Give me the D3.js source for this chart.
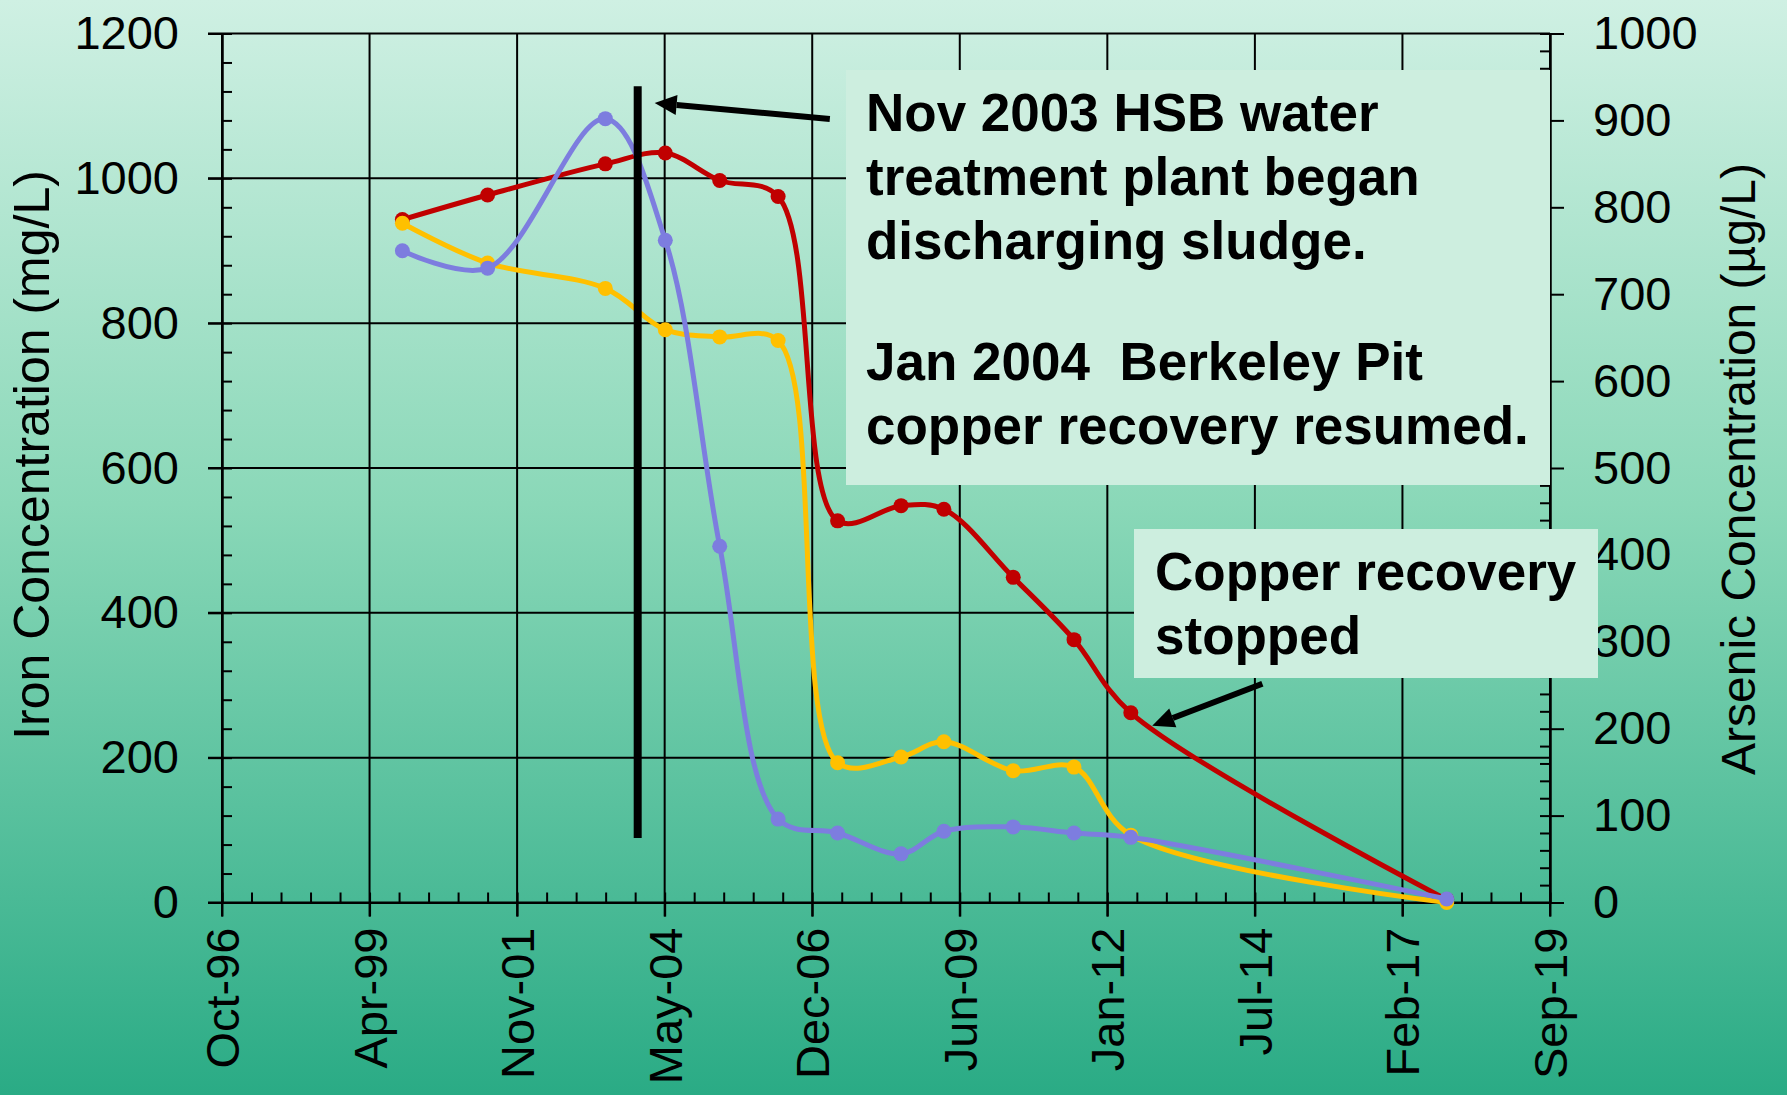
<!DOCTYPE html>
<html>
<head>
<meta charset="utf-8">
<script src="https://cdn.jsdelivr.net/npm/d3@7"></script>
<style>
    body { margin: 0; }
    svg { display: block; font-family: "Liberation Sans", Arial, sans-serif; }
</style>
</head>
<body>
<div id="chart"></div>
<script>
// sample dates and the three series
var sampleDates = ["1999-11-12", "2001-05-02", "2003-05-14", "2004-05-26", "2005-05-04", "2006-05-07",
    "2007-05-17", "2008-06-20", "2009-03-17", "2010-05-28", "2011-06-15", "2012-06-07", "2017-11-19"];
var ironRed = [943, 977, 1020, 1035, 997, 975, 527, 548, 543, 449, 363, 262, 4];      // mg/L, left axis
var ironYellow = [938, 883, 848, 791, 781, 776, 193, 201, 222, 182, 187, 93, 0];      // mg/L, left axis
var arsenicBlue = [750, 730, 902, 762, 410, 96, 80, 56, 82, 87, 80, 75, 4];            // ug/L, right axis

var xTickLabels = ["Oct-96", "Apr-99", "Nov-01", "May-04", "Dec-06", "Jun-09", "Jan-12", "Jul-14", "Feb-17", "Sep-19"];
var axisStart = "1996-10-01";
var majorDays = 930;
var leftTicks = [0, 200, 400, 600, 800, 1000, 1200];
var rightTicks = [0, 100, 200, 300, 400, 500, 600, 700, 800, 900, 1000];

var markerDate = "2003-12-04";
var markerRange = [89, 1127];

var noteLines = ["Nov 2003 HSB water", "treatment plant began", "discharging sludge.", "", "Jan 2004  Berkeley Pit", "copper recovery resumed."];
var stopLines = ["Copper recovery", "stopped"];
// arrows: [tail date, tail value], [tip date, tip value] on the iron axis
var noteArrow = [["2007-03-29", 1082], ["2004-03-20", 1104]];
var stopArrow = [["2014-09-14", 302], ["2012-10-20", 244]];

var width = 1787, height = 1095;
var margin = { top: 33.5, right: 237, bottom: 192.5, left: 222 };
var plotW = width - margin.left - margin.right;
var plotH = height - margin.top - margin.bottom;

var parse = d3.timeParse("%Y-%m-%d");
var start = parse(axisStart);
var majorDates = xTickLabels.map(function (d, i) { return d3.timeDay.offset(start, i * majorDays); });

var x = d3.scaleTime()
    .domain([start, majorDates[majorDates.length - 1]])
    .range([0, plotW]);
var yLeft = d3.scaleLinear().domain([0, 1200]).range([plotH, 0]);
var yRight = d3.scaleLinear().domain([0, 1000]).range([plotH, 0]);

var svg = d3.select("#chart").append("svg")
    .attr("width", width)
    .attr("height", height);

var grad = svg.append("defs").append("linearGradient")
    .attr("id", "bg")
    .attr("x1", 0).attr("y1", 0).attr("x2", 0).attr("y2", 1);
grad.append("stop").attr("offset", 0).attr("stop-color", "#cff0e3");
grad.append("stop").attr("offset", 0.46).attr("stop-color", "#8ad8b8");
grad.append("stop").attr("offset", 1).attr("stop-color", "#2aab85");

svg.append("rect")
    .attr("width", width)
    .attr("height", height)
    .attr("fill", "url(#bg)");

var g = svg.append("g")
    .attr("transform", "translate(" + margin.left + "," + margin.top + ")");

// gridlines
g.selectAll(".hgrid")
    .data(leftTicks)
    .enter()
    .append("line")
    .attr("x1", -14).attr("x2", plotW)
    .attr("y1", function (d) { return yLeft(d); })
    .attr("y2", function (d) { return yLeft(d); })
    .attr("stroke", "#000").attr("stroke-width", 2);

g.selectAll(".vgrid")
    .data(majorDates)
    .enter()
    .append("line")
    .attr("x1", function (d) { return x(d); })
    .attr("x2", function (d) { return x(d); })
    .attr("y1", 0).attr("y2", plotH + 14)
    .attr("stroke", "#000").attr("stroke-width", 2);

function styleAxis(sel) {
    sel.select(".domain").attr("stroke", "#000").attr("stroke-width", 2);
    sel.selectAll(".tick line").attr("stroke", "#000").attr("stroke-width", 2);
    sel.selectAll("text").attr("font-size", 47).attr("fill", "#000")
        .attr("font-family", "'Liberation Sans', Arial, sans-serif");
}

// minor ticks
var minorDates = d3.range(0, 46).map(function (i) { return d3.timeDay.offset(start, i * majorDays / 5); });
g.append("g")
    .attr("transform", "translate(0," + plotH + ")")
    .call(d3.axisTop(x).tickValues(minorDates).tickSize(10).tickSizeOuter(0).tickFormat(""))
    .call(styleAxis);
g.append("g")
    .call(d3.axisRight(yLeft).tickValues(d3.range(0, 1201, 40)).tickSize(10).tickSizeOuter(0).tickFormat(""))
    .call(styleAxis);
g.append("g")
    .attr("transform", "translate(" + plotW + ",0)")
    .call(d3.axisLeft(yRight).tickValues(d3.range(0, 1001, 20)).tickSize(10).tickSizeOuter(0).tickFormat(""))
    .call(styleAxis);

// major axes
g.append("g")
    .call(d3.axisLeft(yLeft).tickValues(leftTicks).tickSize(14).tickSizeOuter(0).tickPadding(29)
        .tickFormat(d3.format("d")))
    .call(styleAxis);

g.append("g")
    .attr("transform", "translate(" + plotW + ",0)")
    .call(d3.axisRight(yRight).tickValues(rightTicks).tickSize(14).tickSizeOuter(0).tickPadding(29)
        .tickFormat(d3.format("d")))
    .call(styleAxis);

var xAxis = g.append("g")
    .attr("transform", "translate(0," + plotH + ")")
    .call(d3.axisBottom(x).tickValues(majorDates).tickSize(14).tickSizeOuter(0)
        .tickFormat(function (d, i) { return xTickLabels[i]; }))
    .call(styleAxis);
xAxis.selectAll("text")
    .attr("y", 0)
    .attr("x", -25)
    .attr("dy", "0.35em")
    .attr("transform", "rotate(-90)")
    .style("text-anchor", "end");

// axis titles
svg.append("text")
    .attr("transform", "translate(31,455) rotate(-90)")
    .attr("text-anchor", "middle")
    .attr("dy", "0.35em")
    .attr("font-size", 50)
    .text("Iron Concentration (mg/L)");

svg.append("text")
    .attr("transform", "translate(1738,469) rotate(-90)")
    .attr("text-anchor", "middle")
    .attr("dy", "0.35em")
    .attr("font-size", 48)
    .text("Arsenic Concentration (\u00b5g/L)");

// series
var seriesList = [
    { values: ironRed, y: yLeft, color: "#c00000" },
    { values: ironYellow, y: yLeft, color: "#ffc000" },
    { values: arsenicBlue, y: yRight, color: "#7d7ddf" }
];

seriesList.forEach(function (s) {
    var pts = sampleDates.map(function (d, i) { return { date: parse(d), value: s.values[i] }; });
    var line = d3.line()
        .x(function (d) { return x(d.date); })
        .y(function (d) { return s.y(d.value); })
        .curve(d3.curveCatmullRom);
    g.append("path")
        .datum(pts)
        .attr("d", line)
        .attr("fill", "none")
        .attr("stroke", s.color)
        .attr("stroke-width", 5);
    g.selectAll(null)
        .data(pts)
        .enter()
        .append("circle")
        .attr("cx", function (d) { return x(d.date); })
        .attr("cy", function (d) { return s.y(d.value); })
        .attr("r", 7.5)
        .attr("fill", s.color);
});

// Nov 2003 marker bar
g.append("line")
    .attr("x1", x(parse(markerDate)))
    .attr("x2", x(parse(markerDate)))
    .attr("y1", yLeft(markerRange[0]))
    .attr("y2", yLeft(markerRange[1]))
    .attr("stroke", "#000")
    .attr("stroke-width", 8);

// annotation boxes
function noteBox(bx, by, bw, bh, lines, tx, ty) {
    svg.append("rect")
        .attr("x", bx).attr("y", by)
        .attr("width", bw).attr("height", bh)
        .attr("fill", "#cdeedf");
    var yy = ty;
    lines.forEach(function (t) {
        if (t === "") { yy += 57; return; }
        svg.append("text")
            .attr("x", tx).attr("y", yy)
            .attr("font-size", 53)
            .attr("font-weight", "bold")
            .style("white-space", "pre")
            .text(t);
        yy += 64;
    });
}
noteBox(846, 70, 704, 415, noteLines, 866, 131);
noteBox(1134, 529, 464, 149, stopLines, 1155, 590);

function drawArrow(a) {
    var x1 = margin.left + x(parse(a[0][0])), y1 = margin.top + yLeft(a[0][1]);
    var x2 = margin.left + x(parse(a[1][0])), y2 = margin.top + yLeft(a[1][1]);
    var ang = Math.atan2(y2 - y1, x2 - x1);
    var L = 22, W = 10;
    var bx = x2 - L * Math.cos(ang), by = y2 - L * Math.sin(ang);
    svg.append("line")
        .attr("x1", x1).attr("y1", y1)
        .attr("x2", bx).attr("y2", by)
        .attr("stroke", "#000").attr("stroke-width", 6);
    svg.append("polygon")
        .attr("points", [
            [x2, y2],
            [bx + W * Math.sin(ang), by - W * Math.cos(ang)],
            [bx - W * Math.sin(ang), by + W * Math.cos(ang)]
        ].map(function (p) { return p.join(","); }).join(" "))
        .attr("fill", "#000");
}
drawArrow(noteArrow);
drawArrow(stopArrow);
</script>
</body>
</html>
